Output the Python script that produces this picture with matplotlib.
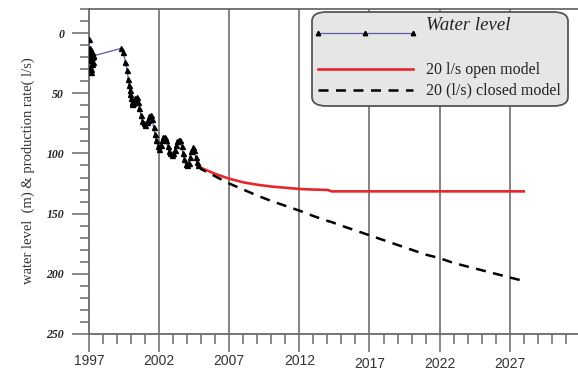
import matplotlib
matplotlib.use("Agg")
import matplotlib.pyplot as plt
from matplotlib.patches import FancyBboxPatch
from matplotlib.lines import Line2D

# ---------------- data ----------------
wl_years = [1997.00, 1997.02, 1997.04, 1997.06, 1997.08, 1997.10, 1997.12, 1997.14,
            1997.16, 1997.18, 1997.20, 1997.22, 1997.25, 1997.28, 1997.30,
            1999.26, 1999.45, 1999.60, 1999.72, 1999.80,
            1999.85, 1999.90, 1999.95, 2000.00, 2000.05, 2000.10, 2000.15, 2000.20,
            2000.30, 2000.40, 2000.50, 2000.60, 2000.70, 2000.80, 2000.90, 2001.00,
            2001.10, 2001.20, 2001.30, 2001.40, 2001.50, 2001.60, 2001.70, 2001.80,
            2001.90, 2002.00, 2002.10, 2002.20, 2002.30, 2002.40, 2002.50, 2002.60,
            2002.70, 2002.80, 2002.90, 2003.00, 2003.10, 2003.20, 2003.30, 2003.40,
            2003.50, 2003.60, 2003.70, 2003.80, 2003.90, 2004.00, 2004.10, 2004.20,
            2004.30, 2004.40, 2004.50, 2004.60, 2004.70, 2004.80]
wl_values = [5, 15, 22, 12, 28, 18, 32, 20,
             30, 16, 26, 20, 24, 18, 19,
             12.8, 16, 24, 31, 37.8,
             43, 47, 51, 54, 57, 59, 58, 56,
             54, 53, 57, 62, 68, 73, 75, 76,
             74, 72, 69, 68, 71, 78, 84, 89,
             94, 96, 93, 89, 86, 86, 89, 94,
             98, 100, 101, 100, 97, 93, 90, 89,
             89, 94, 100, 105, 109, 110, 108, 103,
             98, 95, 97, 103, 107, 110]

model_years = [2004.8, 2005, 2006, 2007, 2008, 2009, 2010, 2011, 2012, 2013, 2014,
               2014.3, 2015, 2016, 2017, 2018, 2019, 2020, 2021, 2022, 2023, 2024,
               2025, 2026, 2027, 2028]
open_values = [110, 112, 117, 121, 124, 126, 127.5, 128.5, 129.5, 130, 130.3,
               131.5, 131.5, 131.5, 131.5, 131.5, 131.5, 131.5, 131.5, 131.5, 131.5,
               131.5, 131.5, 131.5, 131.5, 131.5]
closed_values = [110, 113, 119, 125, 130, 135, 139.5, 143.5, 147.5, 152, 156,
                 157, 160, 164, 168, 172, 176, 180, 184, 187, 191, 194,
                 197, 200, 203, 206]

major_years = [1997, 2002, 2007, 2012, 2017, 2022, 2027]
major_labels = ["1997", "2002", "2007", "2012", "2017", "2022", "2027"]
y_major = [0, 50, 100, 150, 200, 250]
y_labels = ["0", "50", "100", "150", "200", "250"]

legend_labels = ["Water level", "20 l/s open model", "20 (l/s) closed model"]
ylabel_text = "water level  (m) & production rate( l/s)"

# ---------------- figure ----------------
W, H = 578, 371
fig = plt.figure(figsize=(W / 100, H / 100), dpi=100)

def fx(px):
    return px / W

def fy(py):
    return 1 - py / H

ax = fig.add_axes([fx(89), fy(334), fx(578) - fx(89) + 0.002, fy(9) - fy(334)])
ax.set_xlim(1997, 2031.95)
ax.set_ylim(250, -20)

grid_c = "#7a7a7a"
for yr in major_years[1:]:
    ax.axvline(yr, color=grid_c, lw=1.3, zorder=1)

ax.plot(wl_years, wl_values, color="#5c5ca8", lw=0.9, marker="^", ms=3.6,
        mfc="black", mec="black", zorder=4)
ax.plot(model_years, open_values, color="#e8262a", lw=1.9, zorder=3)
ax.plot(model_years, closed_values, color="black", lw=1.8, dashes=(4, 3), zorder=3)

# spines
ax.spines["right"].set_visible(False)
for s in ["left", "bottom", "top"]:
    ax.spines[s].set_color("#6a6a6a")
    ax.spines[s].set_linewidth(1.3)

# ticks
ax.set_xticks(major_years)
ax.set_xticklabels(major_labels, family="Liberation Sans", fontsize=10, color="#333333")
ax.set_xticks(list(range(1997, 2032)), minor=True)
ax.tick_params(axis="x", which="major", direction="out", length=13, width=1.1,
               color="#6a6a6a", pad=1.5)
ax.tick_params(axis="x", which="minor", direction="out", length=7, width=1.1,
               color="#6a6a6a")
# the later year labels sit a little lower, as in the original
for i, t in enumerate(ax.xaxis.get_major_ticks()):
    if i >= 4:
        t.set_pad(3.5)

ax.set_yticks(y_major)
ax.set_yticklabels(y_labels, family="Liberation Serif", fontsize=8.5,
                   fontweight="bold", fontstyle="italic", color="#222222")
ax.set_yticks(list(range(-20, 251, 10)), minor=True)
ax.tick_params(axis="y", which="major", direction="out", length=12, width=1.1,
               color="#6a6a6a", pad=6)
ax.tick_params(axis="y", which="minor", direction="out", length=6.5, width=1.1,
               color="#6a6a6a")

fig.text(fx(28), fy(171), ylabel_text, rotation=90, ha="center", va="center",
         family="Liberation Serif", fontsize=10.5, color="#333333")

# ---------------- legend (drawn manually) ----------------
box = FancyBboxPatch((fx(312), fy(106)), fx(568) - fx(312), fy(12) - fy(106),
                     boxstyle="round,pad=0,rounding_size=0.025",
                     transform=fig.transFigure, facecolor="#e6e6e6",
                     edgecolor="#555555", lw=1.3, zorder=10)
fig.patches.append(box)

fig.lines.append(Line2D([fx(318), fx(365), fx(413)], [fy(33)] * 3,
                        transform=fig.transFigure, color="#5c5ca8", lw=0.9,
                        marker="^", ms=3.2, mfc="black", mec="black", zorder=11))
fig.lines.append(Line2D([fx(318), fx(413)], [fy(69)] * 2, transform=fig.transFigure,
                        color="#e8262a", lw=1.9, zorder=11))
fig.lines.append(Line2D([fx(318), fx(413)], [fy(90)] * 2, transform=fig.transFigure,
                        color="black", lw=1.8, dashes=(4, 3), zorder=11))

fig.text(fx(426), fy(25), legend_labels[0], family="Liberation Serif",
         fontstyle="italic", fontsize=13.5, va="center", ha="left", zorder=12,
         color="#222222")
fig.text(fx(426), fy(70), legend_labels[1], family="Liberation Serif",
         fontsize=11.5, va="center", ha="left", zorder=12, color="#222222")
fig.text(fx(426), fy(90), legend_labels[2], family="Liberation Serif",
         fontsize=11.5, va="center", ha="left", zorder=12, color="#222222")

fig.savefig("out.png", dpi=100)
